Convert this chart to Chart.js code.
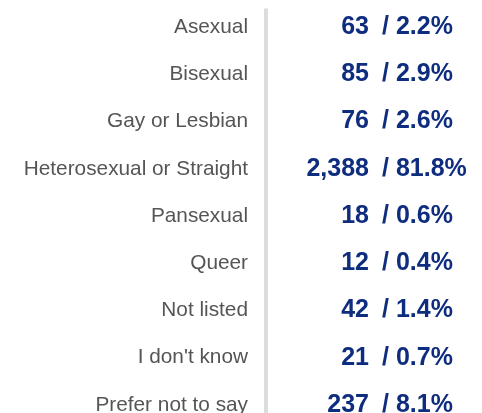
<!DOCTYPE html>
<html>
<head>
<meta charset="utf-8">
<script src="https://cdn.jsdelivr.net/npm/chart.js@4.4.0/dist/chart.umd.min.js"></script>
<style>
  html, body { margin: 0; padding: 0; background: #fff; width: 482px; height: 413px; overflow: hidden; }
  #wrap { position: relative; width: 482px; height: 486px; margin-top: -27px; }
</style>
</head>
<body>
<div id="wrap"><canvas id="orientationChart"></canvas></div>
<script>
const categories = ['Asexual', 'Bisexual', 'Gay or Lesbian', 'Heterosexual or Straight', 'Pansexual', 'Queer', 'Not listed', "I don't know", 'Prefer not to say'];
const counts = [63, 85, 76, 2388, 18, 12, 42, 21, 237];
const percents = [2.2, 2.9, 2.6, 81.8, 0.6, 0.4, 1.4, 0.7, 8.1];

const navy = '#0f2d7e';

// draws the gray divider and the "count / percent" text next to each row
const valueLabels = {
  id: 'valueLabels',
  afterDatasetsDraw(chart) {
    const { ctx, chartArea } = chart;
    ctx.save();
    ctx.fillStyle = '#dcdcdc';
    ctx.fillRect(chartArea.left - 2, chartArea.top + 5, 4, chartArea.bottom - chartArea.top - 5);

    const bars = chart.getDatasetMeta(0).data;
    ctx.font = 'bold 25px Arial, "Liberation Sans", sans-serif';
    ctx.fillStyle = navy;
    ctx.textBaseline = 'middle';
    bars.forEach((bar, i) => {
      ctx.textAlign = 'right';
      ctx.fillText(counts[i].toLocaleString('en-US'), chartArea.left + 103, bar.y);
      ctx.textAlign = 'left';
      ctx.fillText('/ ' + percents[i] + '%', chartArea.left + 116, bar.y);
    });
    ctx.restore();
  }
};

new Chart(document.getElementById('orientationChart'), {
  type: 'bar',
  data: {
    labels: categories,
    datasets: [{
      data: counts,
      backgroundColor: 'rgba(0,0,0,0)',
      borderWidth: 0
    }]
  },
  options: {
    indexAxis: 'y',
    responsive: true,
    maintainAspectRatio: false,
    animation: false,
    layout: { padding: { top: 2, bottom: 0, left: 0, right: 0 } },
    plugins: {
      legend: { display: false },
      tooltip: { enabled: false }
    },
    scales: {
      x: { display: false, min: 0 },
      y: {
        grid: { display: false, drawTicks: false },
        border: { display: false },
        ticks: {
          padding: 18,
          color: '#555555',
          font: { family: 'Arial, "Liberation Sans", sans-serif', size: 20.8 }
        },
        afterFit(scale) { scale.width = 266; }
      }
    }
  },
  plugins: [valueLabels]
});
</script>
</body>
</html>
